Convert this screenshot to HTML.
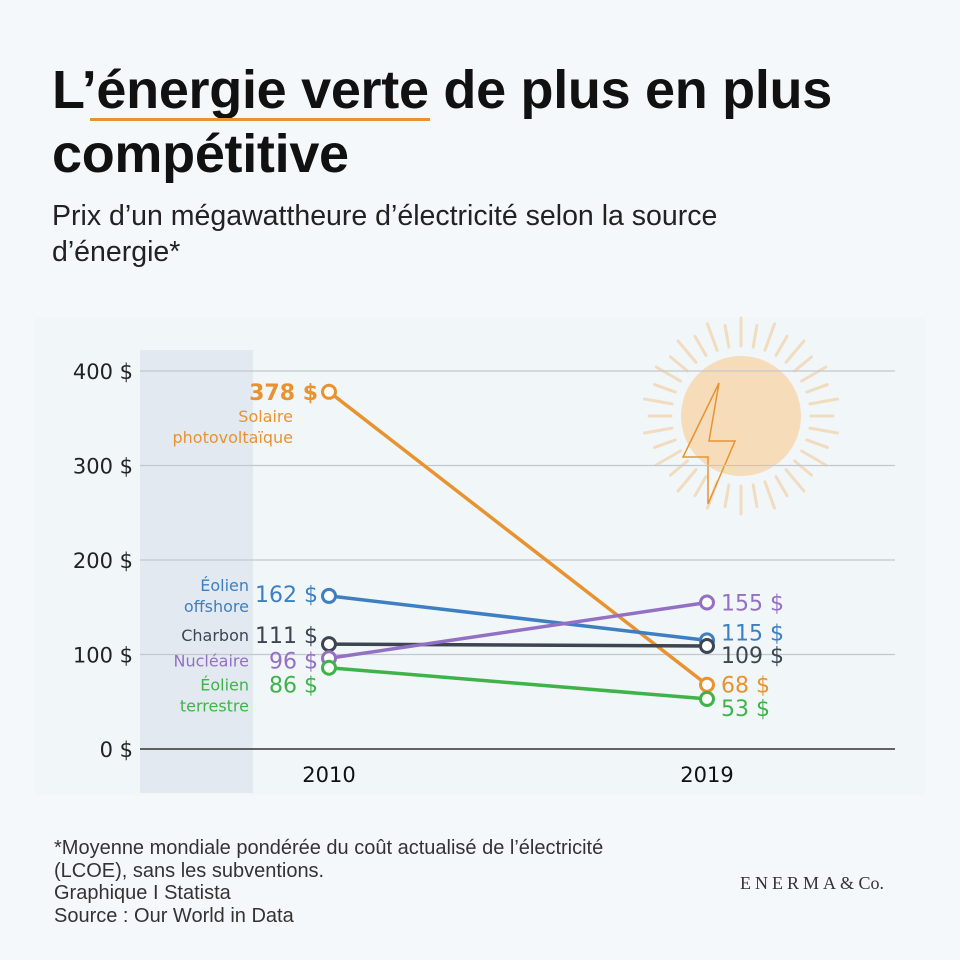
<!DOCTYPE html>
<html><head><meta charset="utf-8"><style>
html,body{margin:0;padding:0;background:#f5f8fa;}
body{width:960px;height:960px;position:relative;overflow:hidden;font-family:"Liberation Sans",sans-serif;}
.title{position:absolute;left:52px;top:58px;font-size:54px;font-weight:bold;color:#111;line-height:64px;letter-spacing:-0.3px;white-space:nowrap;}
.ul{position:absolute;left:90px;top:118px;width:340px;height:3px;background:#e8932f;}
.sub{position:absolute;left:52px;top:198px;font-size:28.5px;color:#222;line-height:36px;white-space:nowrap;}
.foot{position:absolute;left:54px;top:837px;font-size:20px;color:#333;line-height:22.5px;white-space:nowrap;}
.logo{position:absolute;left:740px;top:873px;font-family:"Liberation Serif",serif;font-size:18px;letter-spacing:4px;color:#333;}
svg{position:absolute;left:0;top:0;}
</style></head><body>
<svg id="chart" width="960" height="960"></svg>
<div class="title">L’énergie verte de plus en plus<br>compétitive</div>
<div class="ul"></div>
<div class="sub">Prix d’un mégawattheure d’électricité selon la source<br>d’énergie*</div>
<div class="foot">*Moyenne mondiale pondérée du coût actualisé de l’électricité<br>(LCOE), sans les subventions.<br>Graphique I Statista<br>Source : Our World in Data</div>
<div class="logo">ENERMA<span style="letter-spacing:0">&amp; Co.</span></div>
<script>
const years=["2010","2019"];
const yTicks=[0,100,200,300,400];
const series=["Solaire photovoltaïque","Éolien offshore","Charbon","Nucléaire","Éolien terrestre"];
const v2010=[378,162,111,96,86];
const v2019=[68,115,109,155,53];
const colors=["#e8932f","#3d7fc1","#3c4550","#9470c4","#3fb34a"];
const leftDy=[0,-2,-9,2,17];
const rightDy=[0,-8,9,0,9];
const NS="http://www.w3.org/2000/svg";
const svg=document.getElementById('chart');
const X=i=>329+i*378;
const Y=v=>749-v*0.945;
function mk(t,a,p){const e=document.createElementNS(NS,t);for(const k in a)e.setAttribute(k,a[k]);(p||svg).appendChild(e);return e;}
let bg=mk('rect',{x:35,y:318,width:890,height:477,fill:'#f1f6f9'});


let band=mk('rect',{x:140,y:350,width:113,height:443,fill:'#e3e9f0'});


const sun=mk('g',{});


for(let i=0;i<36;i++){const a=i*Math.PI/18;const r1=70,r2=92+(i%2)*6;
mk('line',{x1:741+r1*Math.cos(a),y1:416+r1*Math.sin(a),x2:741+r2*Math.cos(a),y2:416+r2*Math.sin(a),stroke:'#f1dcc0','stroke-width':3,'stroke-linecap':'round'},sun);}
mk('circle',{cx:741,cy:416,r:60,fill:'#f6dcb8'},sun);
mk('polygon',{points:'719,383 683,457 708,457 708,504 735,441 709,441',fill:'none',stroke:'#e8932f','stroke-width':1.5},sun);
yTicks.forEach(t=>{
 let g=mk('line',{x1:140,x2:895,y1:Y(t),y2:Y(t),stroke:t?'#c3c8ce':'#333','stroke-width':t?1.2:1.5});
 
 
 let l=mk('text',{x:133,y:Y(t)+8,'text-anchor':'end','font-size':21,fill:'#222','font-family':'DejaVu Sans, sans-serif'});
 l.textContent=t+' $';
 
 
});
years.forEach((y,i)=>{
 let l=mk('text',{x:X(i),y:782,'text-anchor':'middle','font-size':21,fill:'#111','font-family':'DejaVu Sans, sans-serif'});
 l.textContent=y;
 
 
});
series.forEach((s,k)=>{
 const c=colors[k];
 let ln=mk('line',{x1:X(0),y1:Y(v2010[k]),x2:X(1),y2:Y(v2019[k]),stroke:c,'stroke-width':3.5});
 
 
 [v2010[k],v2019[k]].forEach((v,i)=>{
  let p=mk('circle',{cx:X(i),cy:Y(v),r:6.5,fill:'#fff',stroke:c,'stroke-width':3});
  
  
 });
 const fam='DejaVu Sans, sans-serif';
 let ly=Y(v2010[k])+leftDy[k]+8;
 let lv=mk('text',{x:318,y:ly,'text-anchor':'end','font-size':22,fill:c,'font-family':fam,'font-weight':k==0?'bold':'normal'});
 lv.textContent=v2010[k]+' $';
 
 
 let rv=mk('text',{x:721,y:Y(v2019[k])+rightDy[k]+8,'font-size':22,fill:c,'font-family':fam});
 rv.textContent=v2019[k]+' $';
 
 
 const words=k==0?['Solaire','photovoltaïque']:k==1?['Éolien','offshore']:k==4?['Éolien','terrestre']:[s];
 const nx=k==0?293:249;
 let ny=k==0?ly+22:(k==1?ly-11:ly-2);
 words.forEach((w,j)=>{
  let t=mk('text',{x:nx,y:ny+j*21,'text-anchor':'end','font-size':16,fill:c,'font-family':fam});
  t.textContent=w;
  
  
 });
});
</script>
</body></html>
